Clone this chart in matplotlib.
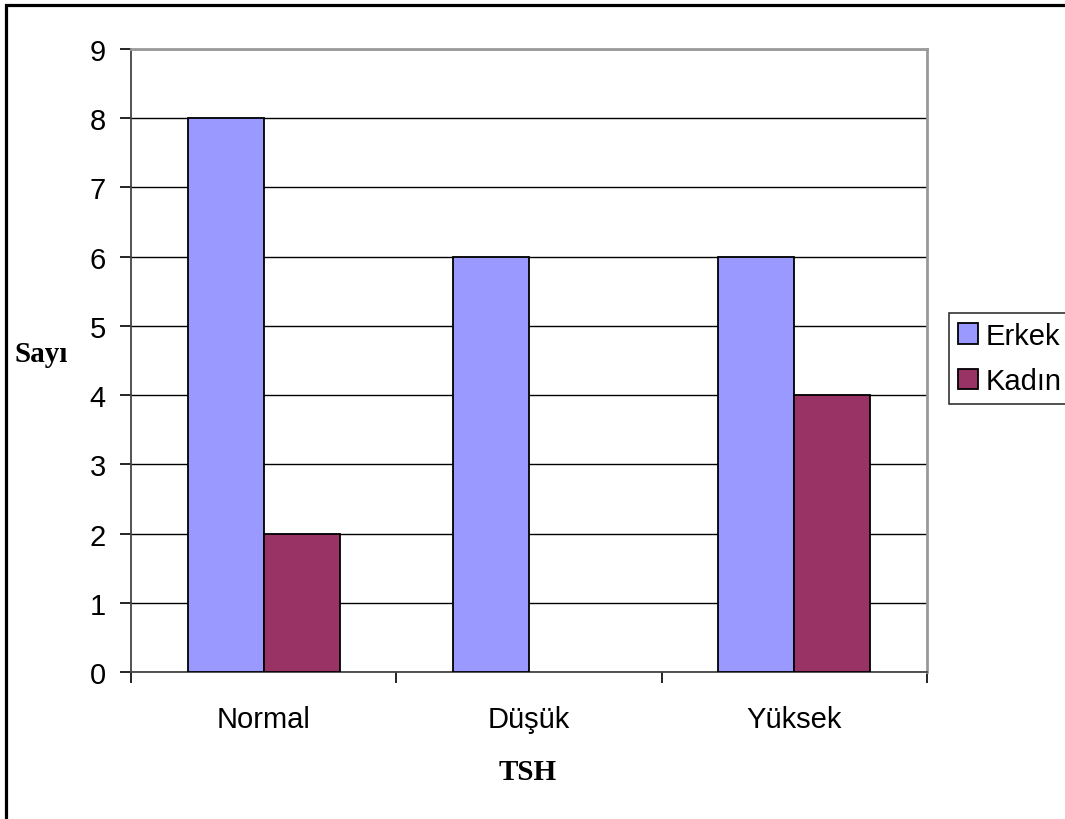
import numpy as np
import matplotlib.pyplot as plt
from matplotlib.patches import Rectangle

# data
categories = ["Normal", "Düşük", "Yüksek"]
erkek = [8, 6, 6]
kadin = [2, 0, 4]
yticks = list(range(0, 10))

W, H = 1065, 820
fig = plt.figure(figsize=(W / 100, H / 100), dpi=100)
fig.patch.set_facecolor("white")

ax = fig.add_axes([131 / W, 1 - 673 / H, (927 - 131) / W, (673 - 50) / H])

x = np.arange(len(categories))
bw = 0.286
b1 = ax.bar(x - bw / 2, erkek, bw, color="#9999FF", edgecolor="black", lw=1.3, label="Erkek", zorder=3)
b2 = ax.bar(x + bw / 2, kadin, bw, color="#993366", edgecolor="black", lw=1.3, label="Kadın", zorder=3)
# zero-height bars leave no outline
for bar, v in zip(b2, kadin):
    if v == 0:
        bar.set_linewidth(0)

ax.set_xlim(-0.5, 2.5)
ax.set_ylim(0, 9)
ax.set_yticks(yticks)
ax.yaxis.grid(True, color="black", lw=1.0, zorder=0)
ax.set_axisbelow(True)

# category labels between boundary ticks
ax.set_xticks(np.arange(-0.5, 3, 1))
ax.set_xticklabels([])
ax.set_xticks(x, minor=True)
ax.set_xticklabels(categories, minor=True)
ax.tick_params(axis="x", which="minor", length=0, pad=24)
ax.tick_params(axis="x", which="major", length=8, width=1.2, color="black", direction="out")
ax.tick_params(axis="y", length=8, width=1.2, color="black", direction="out", pad=10)

for lab in ax.get_xticklabels(minor=True) + ax.get_yticklabels():
    lab.set_fontfamily("Liberation Sans")
    lab.set_fontsize(21)

for s in ["top", "right"]:
    ax.spines[s].set_color("#999999")
    ax.spines[s].set_linewidth(2)
ax.spines["left"].set_color("#444444")
ax.spines["left"].set_linewidth(1.3)
ax.spines["bottom"].set_color("#444444")
ax.spines["bottom"].set_linewidth(1.3)

fig.text(41 / W, 1 - 355 / H, "Sayı", family="Liberation Serif", weight="bold",
         fontsize=21, ha="center", va="center")
fig.text(528 / W, 1 - 773 / H, "TSH", family="Liberation Serif", weight="bold",
         fontsize=21, ha="center", va="center")

leg = ax.legend(loc="upper left", bbox_to_anchor=(949 / W, 1 - 314 / H),
                bbox_transform=fig.transFigure, borderaxespad=0,
                prop={"family": "Liberation Sans", "size": 21},
                frameon=True, fancybox=False, edgecolor="black",
                handlelength=0.7, handleheight=0.7, handletextpad=0.25,
                labelspacing=0.6, borderpad=0.3)
leg.get_frame().set_linewidth(1.2)

# outer chart border
fig.patches.append(Rectangle((6 / W, -0.1), 1.2, 1 - 6 / H + 0.1, transform=fig.transFigure,
                             fill=False, edgecolor="black", lw=2.3, clip_on=False))

fig.savefig("out.png", dpi=100)
